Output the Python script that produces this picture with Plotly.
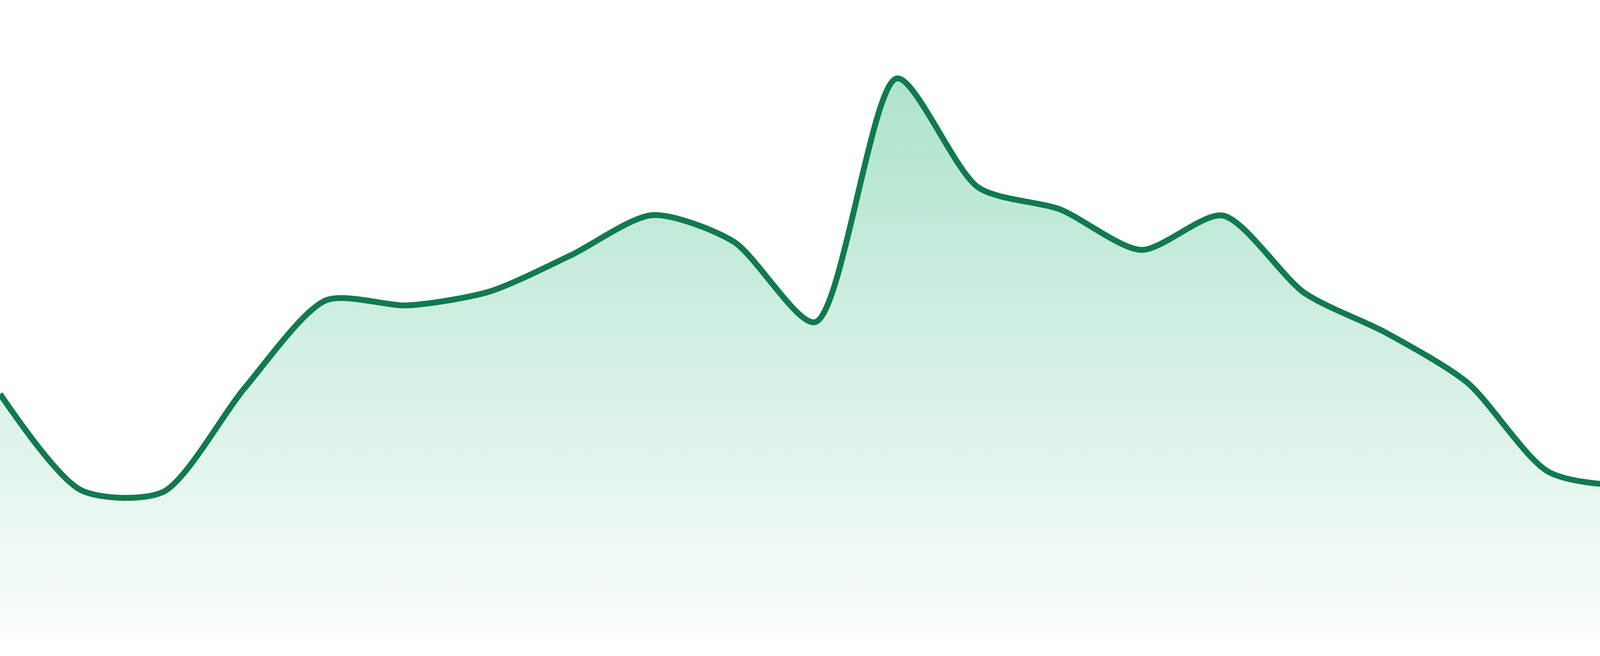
import plotly.graph_objects as go

# index of each sample along the x axis
points = list(range(24))

# series values
values = [62.3, 37.6, 37.2, 63.8, 86.3, 85.0, 88.5, 97.8, 108.1, 101.3, 80.7, 143.1,
          115.2, 109.6, 99.2, 108.0, 88.2, 78.0, 65.2, 42.3, 39.2, 46.6, 50.9, 48.0]

LINE_COLOR = "#117a4f"
FILL_TOP = "#ade3cb"
FILL_BOTTOM = "#fafdfc"

fig = go.Figure()
fig.add_trace(go.Scatter(
    x=points,
    y=values,
    mode="lines",
    line=dict(color=LINE_COLOR, width=15, shape="spline", smoothing=0.75),
    fill="tozeroy",
    fillgradient=dict(
        type="vertical",
        colorscale=[[0, FILL_BOTTOM], [1, FILL_TOP]],
        start=0,
        stop=max(values),
    ),
    hoverinfo="skip",
    showlegend=False,
))

fig.update_layout(
    width=4800,
    height=1680,
    margin=dict(l=0, r=0, t=0, b=48, pad=0),
    paper_bgcolor="white",
    plot_bgcolor="white",
    showlegend=False,
    xaxis=dict(range=[0, 23], visible=False, showgrid=False, zeroline=False, fixedrange=True),
    yaxis=dict(range=[0, 163.2], visible=False, showgrid=False, zeroline=False, fixedrange=True),
)

fig.write_html(
    "out.html",
    config={"displayModeBar": False, "staticPlot": True},
    post_script="document.body.style.margin='0';document.body.style.overflow='hidden';",
)
